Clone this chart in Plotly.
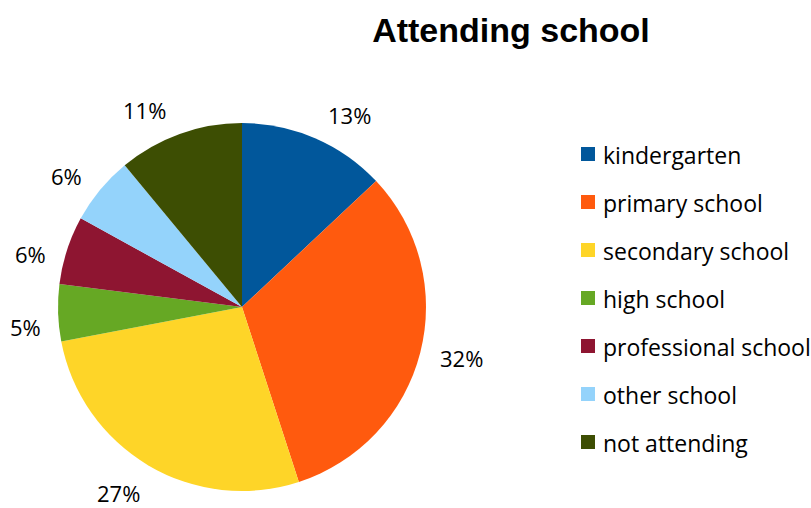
import math
import plotly.graph_objects as go

# Share of people by school attendance
categories = ["kindergarten", "primary school", "secondary school", "high school",
              "professional school", "other school", "not attending"]
shares = [13, 32, 27, 5, 6, 6, 11]
colors = ["#01579B", "#FF5A0E", "#FED528", "#66A824", "#8E1531", "#94D3FB", "#3D4E03"]

W, H = 811, 508
cx, cy, R = 242, 307, 184          # pie centre and radius in pixels
label_r = 221                      # distance of percentage labels from centre
# small pixel nudges (dx, dy) applied to each radial label spot for readability
label_nudge = [(20, 11), (5, -4), (-11, -4), (4, 13), (-1, 15), (-5, 10), (-23, 11)]
label_font = dict(family="Open Sans, Lato, sans-serif", size=22, color="#000000")
legend_font = dict(family="Open Sans, Lato, sans-serif", size=23, color="#000000")

fig = go.Figure(go.Pie(
    labels=categories,
    values=shares,
    sort=False,
    direction="clockwise",
    rotation=0,
    marker=dict(colors=colors, line=dict(width=0)),
    textinfo="none",
    hoverinfo="label+percent",
    showlegend=False,
    domain=dict(x=[(cx - R) / W, (cx + R) / W], y=[1 - (cy + R) / H, 1 - (cy - R) / H]),
))

# Percentage labels placed outside each slice
total = sum(shares)
acc = 0
annotations = []
for v, (dx, dy) in zip(shares, label_nudge):
    mid = (acc + v / 2) / total * 2 * math.pi
    acc += v
    px = cx + label_r * math.sin(mid) + dx
    py = cy - label_r * math.cos(mid) + dy
    annotations.append(dict(x=px / W, y=1 - py / H, xref="paper", yref="paper",
                            text=f"{round(v / total * 100)}%", showarrow=False,
                            font=label_font, xanchor="center", yanchor="middle",
                            borderpad=0))

# Legend drawn as colour squares with labels
shapes = []
lx, ly0, step, sq = 581, 154, 48, 14
for i, (name, col) in enumerate(zip(categories, colors)):
    y = ly0 + i * step
    shapes.append(dict(type="rect", xref="paper", yref="paper",
                       x0=lx / W, x1=(lx + sq) / W,
                       y0=1 - (y + sq / 2) / H, y1=1 - (y - sq / 2) / H,
                       fillcolor=col, line=dict(width=0)))
    annotations.append(dict(x=(lx + 20) / W, y=1 - (y + 1) / H, xref="paper", yref="paper",
                            text=name, showarrow=False, font=legend_font,
                            xanchor="left", yanchor="middle"))

fig.update_layout(
    width=W, height=H,
    margin=dict(l=0, r=0, t=0, b=0),
    paper_bgcolor="white", plot_bgcolor="white",
    title=dict(text="<b>Attending school</b>", x=511 / W, xanchor="center",
               y=1 - 30 / H, yanchor="middle",
               font=dict(family="Liberation Sans, Arial, sans-serif", size=34, color="#000000")),
    annotations=annotations,
    shapes=shapes,
)

fig.write_html("out.html")
